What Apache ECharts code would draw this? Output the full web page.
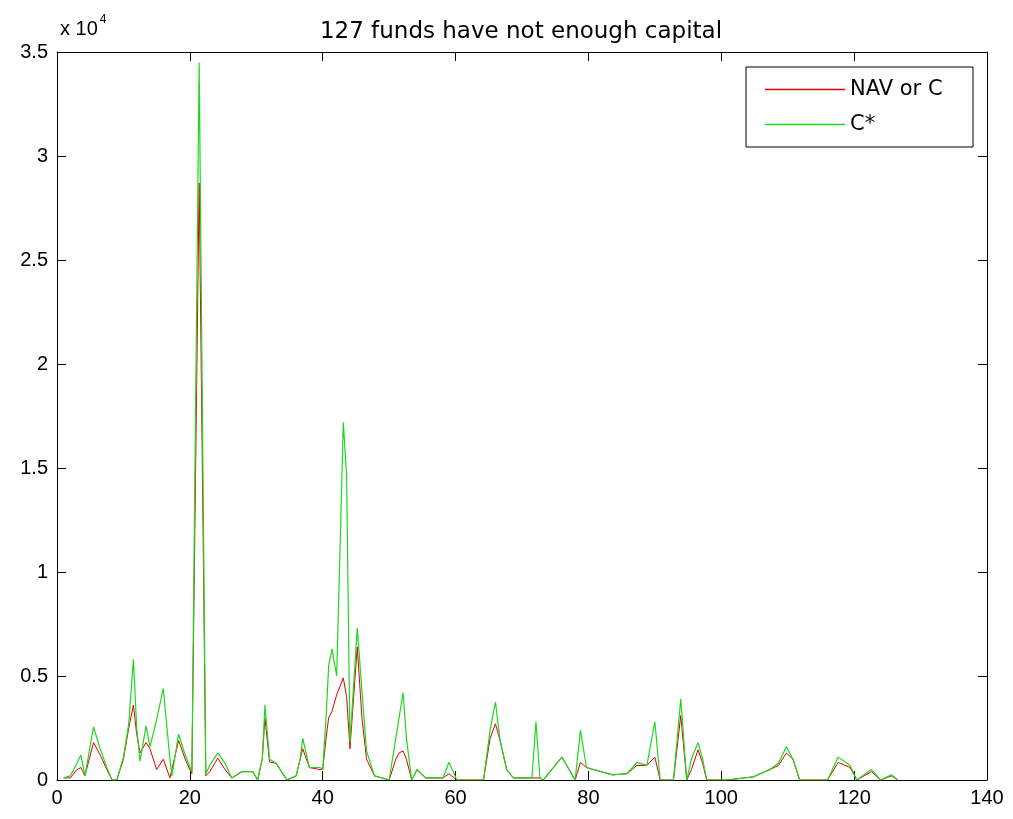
<!DOCTYPE html>
<html>
<head>
<meta charset="utf-8">
<script src="https://cdn.jsdelivr.net/npm/echarts@6/dist/echarts.min.js"></script>
<style>
html,body{margin:0;padding:0;background:#fff;}
#c{width:1013px;height:819px;}
</style>
</head>
<body>
<div id="c"></div>
<script>
// fund index (x) positions of the sampled points
var xs = [1,2,3,3.6,4.2,5.5,6.5,7.5,8.3,9,10,10.8,11.5,12,12.5,13.4,14,15,16,17,17.3,18.3,19.3,20.3,
  21.4,22.4,23,24.2,25.3,26.3,27.8,29.5,30.2,30.9,31.3,32,33,34.6,36,36.6,37,38,39.6,40,
  40.5,40.9,41.4,42.1,42.6,43.1,43.6,44.1,45.2,45.9,46.6,47.8,50,51,51.5,52.1,52.6,53.4,54.2,55.5,
  58.1,59,60.2,64.2,65.2,66,66.7,67.7,68.7,71.5,72.1,72.7,73.2,76,78,78.8,79.7,83.6,85.8,87.3,88.8,
  90,90.8,92.8,93.9,94.8,95.5,96.5,97.2,97.8,100.8,104.8,107.3,108.6,109.8,110.8,111.8,116,117.6,
  119.4,120.4,122.6,124,125.6,126.6];
// NAV or C
var navOrC = [100,100,500,600,200,1800,1200,500,0,0,1000,2500,3600,2200,1300,1800,1500,500,1000,100,100,1900,1000,300,
  28700,200,400,1050,500,100,400,400,0,1000,3000,870,800,0,200,1000,1500,600,500,500,
  2000,3000,3300,4100,4500,4900,4000,1500,6400,3000,1000,200,0,1000,1300,1400,1000,0,500,100,
  100,300,0,0,2000,2700,1900,500,100,100,100,100,0,1100,0,850,600,250,300,700,700,
  1100,0,0,3100,0,500,1450,800,0,0,150,500,700,1300,1000,0,0,850,
  600,0,400,0,200,0];
// C*
var cStar = [100,200,800,1200,200,2550,1500,600,0,0,1100,2700,5800,2500,900,2600,1600,2900,4400,1000,200,2200,1200,400,
  34500,300,700,1300,800,100,400,400,0,1000,3600,1000,800,0,200,1000,2000,600,600,500,
  3000,5500,6300,5000,11000,17200,14600,1800,7300,4300,1400,200,0,2000,3000,4200,2000,0,500,100,
  100,850,0,0,2400,3750,1900,500,100,100,2800,100,0,1100,0,2400,600,250,300,850,700,
  2800,0,0,3900,0,1000,1800,1000,0,0,150,500,800,1600,1000,0,0,1100,
  700,0,500,0,250,0];
var xTicks = [0,20,40,60,80,100,120,140];
var yTickLabels = ['0','0.5','1','1.5','2','2.5','3','3.5'];

var navData = xs.map(function(x,i){return [x, navOrC[i]];});
var cData = xs.map(function(x,i){return [x, cStar[i]];});

var chart = echarts.init(document.getElementById('c'), null, {renderer:'canvas'});
var FONT = 'Liberation Sans, Arial, sans-serif';
var WFONT = 'DejaVu Sans, sans-serif';
var axisCommon = {
  axisLine:{show:true, onZero:false, lineStyle:{color:'#000', width:1}},
  axisTick:{show:true, inside:true, length:9, lineStyle:{color:'#000', width:1}},
  splitLine:{show:false}
};
chart.setOption({
  animation:false,
  backgroundColor:'#fff',
  title:{
    text:'127 funds have not enough capital',
    left:516, top:16, textAlign:'center',
    textStyle:{fontFamily:WFONT, fontSize:23, fontWeight:'normal', color:'#000'}
  },
  grid:{left:57, right:26, top:52, bottom:39, containLabel:false},
  xAxis:[
    Object.assign({type:'value', min:0, max:140, interval:20, position:'bottom',
      axisLabel:{show:true, color:'#000', fontFamily:FONT, fontSize:20, margin:8,
        formatter:function(v){return String(v);}}}, axisCommon),
    Object.assign({type:'value', min:0, max:140, interval:20, position:'top',
      axisLabel:{show:false}}, axisCommon)
  ],
  yAxis:[
    Object.assign({type:'value', min:0, max:35000, interval:5000, position:'left',
      axisLabel:{show:true, color:'#000', fontFamily:FONT, fontSize:20, margin:9,
        formatter:function(v){return yTickLabels[Math.round(v/5000)];}}}, axisCommon),
    Object.assign({type:'value', min:0, max:35000, interval:5000, position:'right',
      axisLabel:{show:false}}, axisCommon)
  ],
  legend:{
    orient:'vertical', left:760, top:74,
    icon:'rect', itemWidth:80, itemHeight:1.5, itemGap:14,
    textStyle:{fontFamily:WFONT, fontSize:21, color:'#000', padding:[0,0,0,0]},
    data:['NAV or C','C*'], z:20
  },
  graphic:[
    {type:'rect', shape:{x:746, y:67, width:227, height:80}, style:{fill:'#fff', stroke:'#000', lineWidth:1}, z:10},
    {type:'text', left:60, top:14, z:10, style:{
      text:'{a|x 10}{b|4}', fill:'#000',
      rich:{a:{fontFamily:FONT, fontSize:20, padding:[10,0,0,0]}, b:{fontFamily:FONT, fontSize:12, padding:[0,0,8,2]}}
    }}
  ],
  series:[
    {name:'NAV or C', type:'line', xAxisIndex:0, yAxisIndex:0, data:navData, symbol:'none', showSymbol:false,
     lineStyle:{color:'#e00000', width:1}, itemStyle:{color:'#e00000'}, z:2},
    {name:'C*', type:'line', xAxisIndex:0, yAxisIndex:0, data:cData, symbol:'none', showSymbol:false,
     lineStyle:{color:'#1ed81e', width:1.2}, itemStyle:{color:'#1ed81e'}, z:3}
  ]
});
</script>
</body>
</html>
